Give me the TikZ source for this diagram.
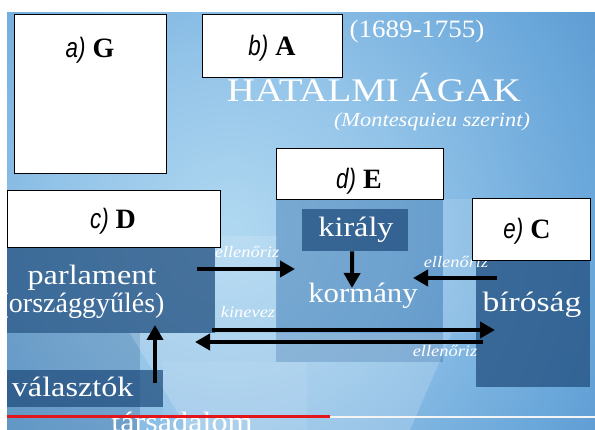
\documentclass[tikz,border=0pt]{standalone}
\usepackage{fontspec}
\setmainfont{Liberation Serif}
\newfontfamily\answerfont{Liberation Sans}
\usetikzlibrary{calc, arrows.meta}

\definecolor{bglight}{HTML}{B0D8F1}
\definecolor{bgmid}{HTML}{92C3E8}
\definecolor{bgblue}{HTML}{6AA7DA}
\definecolor{bgdeep}{HTML}{4A89C5}
\definecolor{bgdark}{HTML}{3B73AE}
\definecolor{bgedge}{HTML}{32659D}
\definecolor{boxdark}{HTML}{1F4C7C}
\definecolor{colblue}{HTML}{3F78B0}
\definecolor{barred}{HTML}{E3161B}

\pgfdeclareradialshading{my-video-shade}{\pgfpoint{0bp}{0bp}}{%
    color(0bp)=(bglight); color(10bp)=(bgmid); color(20bp)=(bgblue);
    color(30bp)=(bgdeep); color(40bp)=(bgdark); color(50bp)=(bgedge)}

\newcommand{\wide}[2][1.15]{\scalebox{#1}[1]{#2}}

\tikzset{
    my-answer-box/.style={
        draw=black, fill=white, line width=1.2pt, anchor=north west, inner sep=0pt
    },
    my-answer/.style={
        anchor=base, font=\fontsize{28}{28}\selectfont
    },
    my-dark-box/.style={
        fill=boxdark, fill opacity=0.72, anchor=north west, inner sep=0pt
    },
    my-big-text/.style={
        anchor=base, text=white, font=\fontsize{28}{28}\selectfont
    },
    my-small-label/.style={
        anchor=base, text=white, font=\itshape\fontsize{16}{16}\selectfont
    },
    my-arrow/.style={
        line width=4pt, -{Triangle[length=15pt, width=16pt]}
    },
}

\begin{document}
\begin{tikzpicture}[x=1pt, y=-1pt]
        \useasboundingbox (0, 0) rectangle (595, 430);
        \fill[white] (0, 0) rectangle (595, 430);

        % VIDEO FRAME ---------------------------------------------------------------------------------
        \begin{scope}
        \clip (7, 13) rectangle (595, 430);
        \shade[shading=my-video-shade] (230, 230) circle (450);

        % LIGHT AND DARK PANELS
        \fill[boxdark, fill opacity=0.25] (7, 333) rectangle (140, 430);
        \fill[white, fill opacity=0.15] (215, 236) rectangle (277, 328);
        \fill[white, fill opacity=0.12] (443, 199) rectangle (476, 333);
        \fill[colblue, fill opacity=0.45] (276, 190) rectangle (443, 362);
        \fill[white, fill opacity=0.18] (130, 333) -- (452, 333) -- (410, 430) -- (188, 430) -- cycle;
        \fill[white, fill opacity=0.08] (163, 362) rectangle (307, 430);
        \node[my-dark-box, minimum width=106, minimum height=42] (KIRALYBOX)  at (302, 209) {};
        \node[my-dark-box, minimum width=208, minimum height=97] (PARLBOX)    at (7, 236)   {};
        \node[my-dark-box, minimum width=114, minimum height=129] (BIROBOX)   at (476, 258) {};
        \node[my-dark-box, minimum width=156, minimum height=37] (VALBOX)     at (7, 370)   {};

        % TITLE
        \node[anchor=base, text=white, font=\fontsize{25}{25}\selectfont] (YEARS) at (417, 38)
            {\wide[1.08]{(1689-1755)}};
        \node[anchor=base, text=white, font=\fontsize{33}{33}\selectfont] (TITLE) at (374, 102)
            {\wide[1.18]{HATALMI ÁGAK}};
        \node[anchor=base, text=white, font=\itshape\fontsize{20}{20}\selectfont] (SUBTITLE) at (432, 127)
            {\wide[1.12]{(Montesquieu szerint)}};

        % BRANCHES
        \node[my-big-text]                    (PARLAMENT)  at (92, 285)  {\wide{parlament}};
        \node[my-big-text, anchor=base east]  (ORSZAGGY)   at (168, 313) {\wide[1.0]{(országgyűlés)}};
        \node[my-big-text]                    (KIRALY)     at (356, 237) {\wide{király}};
        \node[my-big-text]                    (KORMANY)    at (363, 303) {\wide[1.1]{kormány}};
        \node[my-big-text]                    (BIROSAG)    at (532, 312) {\wide[1.2]{bíróság}};
        \node[my-big-text, anchor=base east]  (VALASZTOK)  at (137, 397) {\wide{választók}};
        \node[my-big-text]                    (TARSADALOM) at (182, 432) {\wide{társadalom}};

        % ARROW END POINTS
        \coordinate (PARLOUT)    at (197, 269);
        \coordinate (KORMLEFT)   at (295, 269);
        \coordinate (KORMTOP)    at (352, 288);
        \coordinate (BIROUT)     at (497, 278);
        \coordinate (KORMRIGHT)  at (413, 278);
        \coordinate (KINSTART)   at (212, 330);
        \coordinate (BIRLEFT)    at (495, 330);
        \coordinate (BACKSTART)  at (483, 342);
        \coordinate (PARLBOTTOM) at (195, 342);
        \coordinate (VALTOP)     at (155, 383);
        \coordinate (PARLIN)     at (155, 325);

        % ARROWS AND LABELS
        \draw[my-arrow] (PARLOUT) -- (KORMLEFT);
        \node[my-small-label] (LBLPARL) at (247, 258) {\wide{ellenőriz}};
        \draw[my-arrow] ($(KIRALYBOX.south) + (-3, 0)$) -- (KORMTOP);
        \draw[my-arrow] (BIROUT) -- (KORMRIGHT);
        \node[my-small-label] (LBLBIRO) at (456, 268) {\wide{ellenőriz}};
        \draw[my-arrow] (KINSTART) -- (BIRLEFT);
        \node[my-small-label] (LBLKIN) at (248, 318) {\wide{kinevez}};
        \draw[my-arrow] (BACKSTART) -- (PARLBOTTOM);
        \node[my-small-label] (LBLBACK) at (445, 357) {\wide{ellenőriz}};
        \draw[my-arrow] (VALTOP) -- (PARLIN);

        % PROGRESS BAR
        \draw[barred, line width=3pt] (7, 417) -- (330, 417);
        \draw[white!92!gray, line width=2.5pt] (330, 417) -- (595, 417);
        \end{scope}

        % ANSWER BOXES --------------------------------------------------------------------------------
        \node[my-answer-box, minimum width=152, minimum height=159] (BOXA) at (14, 14)  {};
        \node[my-answer-box, minimum width=140, minimum height=63]  (BOXB) at (202, 14) {};
        \node[my-answer-box, minimum width=213, minimum height=57]  (BOXC) at (7, 190)  {};
        \node[my-answer-box, minimum width=167, minimum height=51]  (BOXD) at (276, 148) {};
        \node[my-answer-box, minimum width=118, minimum height=62]  (BOXE) at (472, 198) {};

        \node[my-answer] (ANSA) at (90, 58)   {{\answerfont\itshape\wide[0.8]{a)}}~\textbf{G}};
        \node[my-answer] (ANSB) at (272, 56)  {{\answerfont\itshape\wide[0.8]{b)}}~\textbf{A}};
        \node[my-answer] (ANSC) at (113, 229) {{\answerfont\itshape\wide[0.8]{c)}}~\textbf{D}};
        \node[my-answer] (ANSD) at (359, 189) {{\answerfont\itshape\wide[0.8]{d)}}~\textbf{E}};
        \node[my-answer] (ANSE) at (527, 239) {{\answerfont\itshape\wide[0.8]{e)}}~\textbf{C}};

\end{tikzpicture}
\end{document}
